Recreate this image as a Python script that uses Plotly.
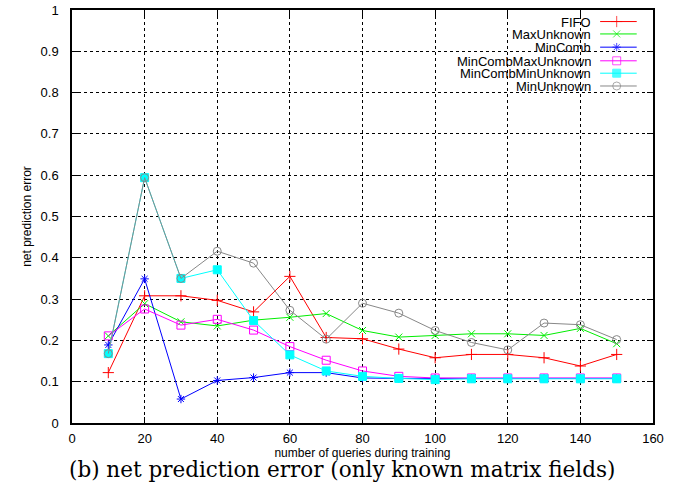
import plotly.graph_objects as go

queries = [10, 20, 30, 40, 50, 60, 70, 80, 90, 100, 110, 120, 130, 140, 150]

fifo = [0.122, 0.308, 0.308, 0.297, 0.269, 0.355, 0.207, 0.204, 0.179, 0.158, 0.166, 0.166, 0.158, 0.138, 0.166]
max_unknown = [0.211, 0.289, 0.245, 0.235, 0.249, 0.256, 0.265, 0.224, 0.208, 0.212, 0.216, 0.216, 0.212, 0.229, 0.192]
min_comb = [0.189, 0.349, 0.058, 0.103, 0.110, 0.122, 0.122, 0.109, 0.108, 0.108, 0.108, 0.108, 0.108, 0.108, 0.108]
min_comb_max_unknown = [0.211, 0.276, 0.237, 0.251, 0.225, 0.185, 0.152, 0.126, 0.113, 0.109, 0.109, 0.109, 0.109, 0.109, 0.109]
min_comb_min_unknown = [0.168, 0.594, 0.350, 0.371, 0.248, 0.165, 0.126, 0.113, 0.108, 0.105, 0.107, 0.107, 0.107, 0.107, 0.107]
min_unknown = [0.168, 0.594, 0.350, 0.416, 0.387, 0.273, 0.203, 0.290, 0.266, 0.224, 0.195, 0.177, 0.242, 0.238, 0.202]

series_names = ["FIFO", "MaxUnknown", "MinComb", "MinCombMaxUnknown", "MinCombMinUnknown", "MinUnknown"]
series_values = [fifo, max_unknown, min_comb, min_comb_max_unknown, min_comb_min_unknown, min_unknown]
series_colors = ["#ff0000", "#00ee00", "#0000ff", "#ff00ff", "#00ffff", "#888888"]
series_symbols = ["cross-thin", "x-thin", "asterisk", "square-open", "square", "circle-open"]
series_msize = [8, 7, 7, 8, 8, 8]

x_ticks = [0, 20, 40, 60, 80, 100, 120, 140, 160]
y_ticks = [0, 0.1, 0.2, 0.3, 0.4, 0.5, 0.6, 0.7, 0.8, 0.9, 1]
y_tick_labels = ["0", "0.1", "0.2", "0.3", "0.4", "0.5", "0.6", "0.7", "0.8", "0.9", "1"]

FONT = "Liberation Sans, Arial, sans-serif"

fig = go.Figure()

for name, vals, col, sym, ms in zip(series_names, series_values, series_colors, series_symbols, series_msize):
    fig.add_trace(go.Scatter(
        x=queries, y=vals, name=name, mode="lines+markers",
        line=dict(color=col, width=1),
        marker=dict(symbol=sym, size=ms, color=col,
                    line=dict(color=col, width=1)),
        showlegend=False, cliponaxis=False,
    ))

# gnuplot-style key: text on the left, sample on the right
key_rows = [0.972, 0.942, 0.910, 0.877, 0.847, 0.816]
for name, col, sym, ms, ky in zip(series_names, series_colors, series_symbols, series_msize, key_rows):
    fig.add_trace(go.Scatter(
        x=[0.909, 0.9375, 0.972], y=[ky, ky, ky], mode="lines+markers",
        xaxis="x2", yaxis="y2",
        line=dict(color=col, width=1),
        marker=dict(symbol=sym, size=[0, ms, 0], color=col, line=dict(color=col, width=1)),
        showlegend=False, hoverinfo="skip",
    ))
    fig.add_annotation(xref="paper", yref="paper", x=0.895, y=ky, text=name,
                       showarrow=False, xanchor="right", yanchor="middle",
                       height=12, borderpad=0,
                       font=dict(family=FONT, size=13, color="#000000"))

fig.add_shape(type="rect", xref="paper", yref="paper", x0=0.661, x1=0.986, y0=0.802, y1=0.997,
              fillcolor="white", line=dict(width=0), layer="between")

fig.add_annotation(xref="paper", yref="paper", x=0.465, y=-0.112,
                   text="(b) net prediction error (only known matrix fields)",
                   showarrow=False, xanchor="center", yanchor="middle",
                   font=dict(family="DejaVu Serif, serif", size=21.5, color="#000000"))

axis_common = dict(
    showline=True, linecolor="#000000", linewidth=1.5, mirror="ticks",
    ticks="inside", ticklen=6, tickcolor="#000000", tickwidth=1,
    showgrid=True, gridcolor="#000000", gridwidth=1, griddash="dot",
    zeroline=False, automargin=False, ticklabeloverflow="allow",
    tickfont=dict(family=FONT, size=13, color="#000000"),
)

fig.update_layout(
    width=680, height=490,
    margin=dict(l=72, r=27, t=10, b=67),
    paper_bgcolor="white", plot_bgcolor="white",
    xaxis=dict(range=[0, 160], tickvals=x_ticks, ticklabelstandoff=3, **axis_common,
               title=dict(text="number of queries during training",
                          font=dict(family=FONT, size=12, color="#000000"), standoff=2)),
    yaxis=dict(range=[0, 1], tickvals=y_ticks, ticktext=y_tick_labels, ticklabelstandoff=9,
               **axis_common,
               title=dict(text="net prediction error",
                          font=dict(family=FONT, size=12, color="#000000"), standoff=6)),
    xaxis2=dict(range=[0, 1], overlaying="x", visible=False, fixedrange=True),
    yaxis2=dict(range=[0, 1], overlaying="y", visible=False, fixedrange=True),
    showlegend=False,
)

fig.write_html("out.html", config={"displayModeBar": False},
               post_script="document.body.style.margin='0px';")
